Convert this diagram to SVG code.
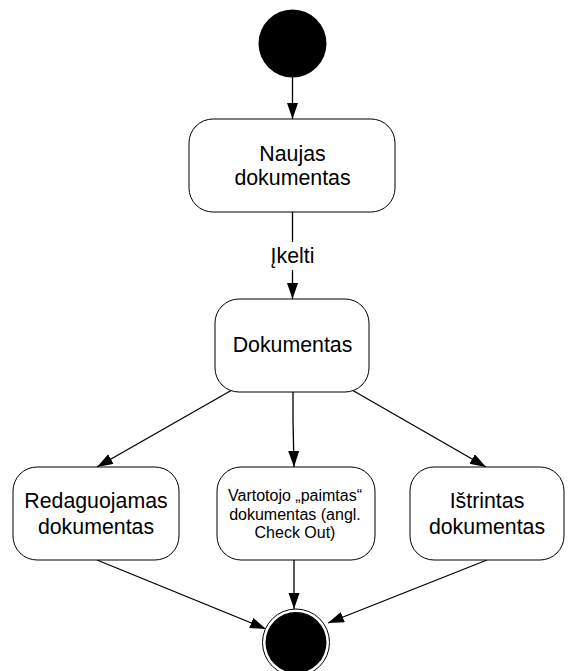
<svg xmlns="http://www.w3.org/2000/svg" width="569" height="671" viewBox="0 0 569 671">
  <style>
    .state { fill: #ffffff; stroke: #000000; stroke-width: 1; }
    .lbl { font-family: "Liberation Sans", Arial, sans-serif; font-size: 21.33px; fill: #000000; text-anchor: middle; }
    .small { font-size: 16px; }
    .edge { fill: none; stroke: #000000; stroke-width: 1.3; }
  </style>
  <defs>
    <marker id="arrow" markerUnits="userSpaceOnUse" markerWidth="17" markerHeight="12" refX="16" refY="5.5" orient="auto">
      <path d="M0,0 L16,5.5 L0,11 z" fill="#000000"/>
    </marker>
  </defs>

  <rect width="569" height="671" fill="#ffffff"/>

  <!-- connectors -->
  <g id="connectors">
    <path class="edge" d="M292.5,77 L292.5,119" marker-end="url(#arrow)"/>
    <path class="edge" d="M292.5,212 L292.5,242"/>
    <path class="edge" d="M292.5,270 L292.5,299" marker-end="url(#arrow)"/>
    <text class="lbl" x="292.5" y="263">Įkelti</text>
    <path class="edge" d="M232,390 L97,467" marker-end="url(#arrow)"/>
    <path class="edge" d="M293,392 L293,420 L294,467" marker-end="url(#arrow)"/>
    <path class="edge" d="M352,390 L486,467" marker-end="url(#arrow)"/>
    <path class="edge" d="M97,560 L266,629" marker-end="url(#arrow)"/>
    <path class="edge" d="M294,560 L294,609" marker-end="url(#arrow)"/>
    <path class="edge" d="M487,560 L328,623" marker-end="url(#arrow)"/>
  </g>

  <!-- initial state -->
  <g id="start">
    <circle cx="292.5" cy="43.5" r="34" fill="#000000"/>
  </g>

  <g id="naujas">
    <rect class="state" x="189" y="119" width="206" height="93" rx="24" ry="24"/>
    <text class="lbl" x="292.5" y="160.5">Naujas</text>
    <text class="lbl" x="292.5" y="185">dokumentas</text>
  </g>

  <g id="dokumentas">
    <rect class="state" x="215" y="299" width="154" height="93" rx="24" ry="24"/>
    <text class="lbl" x="292.5" y="352">Dokumentas</text>
  </g>

  <g id="redaguojamas">
    <rect class="state" x="13" y="467" width="166" height="93" rx="24" ry="24"/>
    <text class="lbl" x="96" y="508">Redaguojamas</text>
    <text class="lbl" x="96" y="534">dokumentas</text>
  </g>

  <g id="paimtas">
    <rect class="state" x="217" y="467" width="158" height="93" rx="24" ry="24"/>
    <text class="lbl small" x="295" y="500.5">Vartotojo „paimtas“</text>
    <text class="lbl small" x="295" y="519.5">dokumentas (angl.</text>
    <text class="lbl small" x="295" y="538">Check Out)</text>
  </g>

  <g id="istrintas">
    <rect class="state" x="410" y="467" width="154" height="93" rx="24" ry="24"/>
    <text class="lbl" x="487" y="508">Ištrintas</text>
    <text class="lbl" x="487" y="534">dokumentas</text>
  </g>

  <!-- final state -->
  <g id="end">
    <circle cx="296" cy="642.5" r="33.5" fill="#ffffff" stroke="#000000" stroke-width="1"/>
    <circle cx="296" cy="642.5" r="30.5" fill="#000000"/>
  </g>
</svg>
